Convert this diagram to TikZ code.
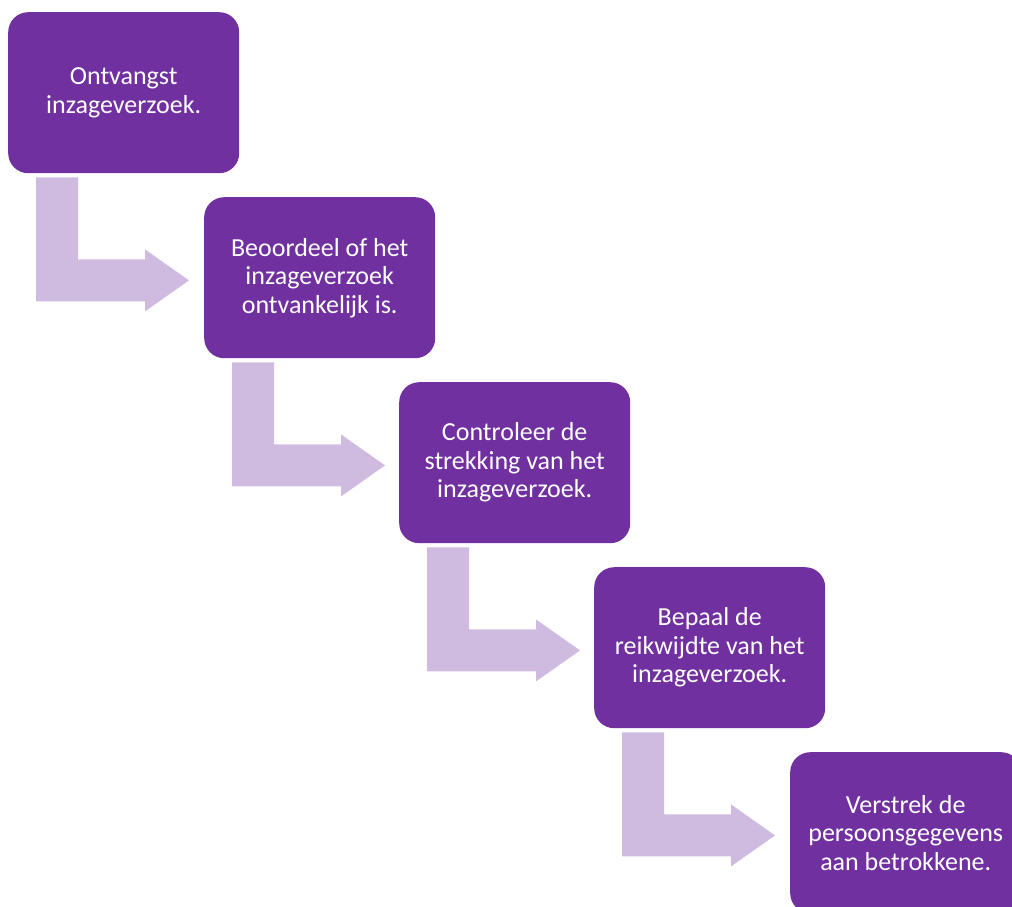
\documentclass[tikz,border=0pt]{standalone}
\usepackage{fontspec}
\setmainfont{Carlito}
\definecolor{boxpurple}{RGB}{112,48,160}
\definecolor{arrowlav}{RGB}{207,187,224}
\tikzset{
  stepbox/.style={fill=boxpurple, rounded corners=20pt, minimum width=231pt, minimum height=161pt,
    inner sep=0pt, align=center, text=white, font=\fontsize{26pt}{28.5pt}\selectfont, anchor=north west},
  bentfill/.style={fill=arrowlav}
}
\newcommand{\bentarrow}[1]{%
  \begin{scope}[shift={(#1.south west)}]
    \fill[bentfill] (28,4) -- (70,4) -- (70,86) -- (137,86) -- (137,76) -- (181,107)
      -- (137,138) -- (137,128) -- (28,128) -- cycle;
  \end{scope}}
\begin{document}
\begin{tikzpicture}[x=1pt,y=-1pt]
\useasboundingbox (0,0) rectangle (1012,907);
\clip (0,0) rectangle (1012,907);
\node[stepbox] (b1) at (8,12) {Ontvangst\\inzageverzoek.};
\node[stepbox] (b2) at (204,197) {Beoordeel of het\\inzageverzoek\\ontvankelijk is.};
\node[stepbox] (b3) at (399,382) {Controleer de\\strekking van het\\inzageverzoek.};
\node[stepbox] (b4) at (594,567) {Bepaal de\\reikwijdte van het\\inzageverzoek.};
\node[stepbox] (b5) at (790,752) {Verstrek de\\persoonsgegevens\\aan betrokkene.};
\bentarrow{b1}
\bentarrow{b2}
\bentarrow{b3}
\bentarrow{b4}
\end{tikzpicture}
\end{document}
